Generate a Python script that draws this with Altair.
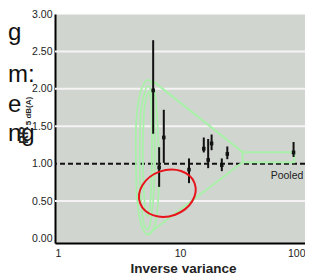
import altair as alt
import pandas as pd

# ---- data ----
inv_var = [6.10, 6.81, 7.42, 11.8, 15.5, 16.8, 17.9, 21.6, 23.9, 81.0]
rr_point = [1.98, 0.95, 1.35, 0.92, 1.20, 1.05, 1.27, 0.98, 1.13, 1.15]
rr_low = [1.40, 0.69, 1.01, 0.74, 1.15, 0.94, 1.18, 0.90, 1.06, 1.09]
rr_high = [2.65, 1.22, 1.72, 1.07, 1.35, 1.33, 1.39, 1.07, 1.23, 1.29]

grid_values = [0.5, 1.5, 2.0, 2.5]
reference_rr = [1.0]
y_ticks = [0, 0.5, 1, 1.5, 2, 2.5, 3]
x_ticks = [1, 10, 100]

# funnel outline (triangle + box to pooled estimate)
funnel_x = [5.95, 31.7, 82.0, 82.0, 31.7, 5.53]
funnel_y = [2.116, 1.154, 1.154, 1.020, 1.020, 0.057]
box_edge_x = [31.7, 31.7]
box_edge_y = [1.154, 1.020]

# hand-drawn loops near the left
loop_outer_x = [5.53, 6.06, 6.41, 6.65, 6.77, 6.65, 6.29, 5.74, 5.23, 4.78, 4.52, 4.44, 4.44, 4.60, 4.95]
loop_outer_y = [2.12, 2.04, 1.85, 1.45, 0.91, 0.45, 0.18, 0.06, 0.08, 0.25, 0.58, 1.05, 1.45, 1.78, 2.01]
loop_mid_x = [5.53, 5.95, 6.18, 6.29, 6.18, 5.95, 5.63, 5.23, 4.95, 4.78, 4.78, 4.86, 5.14]
loop_mid_y = [2.04, 1.93, 1.65, 1.18, 0.65, 0.33, 0.14, 0.16, 0.38, 0.78, 1.32, 1.69, 1.92]
loop_in_x = [5.63, 5.84, 5.95, 5.95, 5.84, 5.63, 5.33, 5.14, 5.04, 5.14, 5.33]
loop_in_y = [1.96, 1.85, 1.58, 1.05, 0.58, 0.32, 0.35, 0.65, 1.18, 1.65, 1.85]

ellipse_x = [7.92]
ellipse_y = [0.606]

pooled_label = ["Pooled"]
pooled_label_x = [97.0]
pooled_label_y = [0.84]

x_title = "Inverse variance"
y_title_main = "RR"
y_title_sub = "5 dB(A)"
slide_words = ["g", "m:", "e", "ng"]

# ---- tables ----
studies = pd.DataFrame({"iv": inv_var, "rr": rr_point, "lo": rr_low, "hi": rr_high})
grid = pd.DataFrame({"v": grid_values})
ref = pd.DataFrame({"v": reference_rr})

fun_rows = []
for i, (a, b) in enumerate(zip(funnel_x, funnel_y)):
    fun_rows.append({"g": "funnel", "i": i, "iv": a, "rr": b})
for i, (a, b) in enumerate(zip(box_edge_x, box_edge_y)):
    fun_rows.append({"g": "edge", "i": i, "iv": a, "rr": b})
funnel = pd.DataFrame(fun_rows)

loop_rows = []
for name, xs_, ys_ in [("outer", loop_outer_x, loop_outer_y), ("mid", loop_mid_x, loop_mid_y), ("in", loop_in_x, loop_in_y)]:
    for i, (a, b) in enumerate(zip(xs_, ys_)):
        loop_rows.append({"g": name, "i": i, "iv": a, "rr": b})
loops = pd.DataFrame(loop_rows)

ell = pd.DataFrame({"iv": ellipse_x, "rr": ellipse_y})
pooled = pd.DataFrame({"iv": pooled_label_x, "rr": pooled_label_y, "t": pooled_label})

FONT = "Liberation Sans Narrow, Arial Narrow, Liberation Sans, sans-serif"
GREEN = "#a9f0a9"

xs = alt.Scale(type="log", domain=[1, 100], nice=False)
ys = alt.Scale(domain=[-0.06, 3.0], nice=False, zero=False)
x_axis = alt.Axis(values=x_ticks, format="d", ticks=False, grid=False, domainColor="black",
                  domainWidth=2, labelFont=FONT, labelFontSize=10.5, labelColor="#222",
                  labelPadding=5, labelFlush=True, title=x_title, titleFont="Liberation Sans",
                  titleFontSize=13.5, titleFontWeight="bold", titleColor="#222", titlePadding=3,
                  titleX=128)
y_axis = alt.Axis(values=y_ticks, format=".2f", ticks=False, grid=False, domainColor="black",
                  domainWidth=2, labelFont=FONT, labelFontSize=10.5, labelColor="#222",
                  labelPadding=3, title=None)


def X(f="iv"):
    return alt.X(f"{f}:Q", scale=xs, axis=x_axis)


def Y(f="rr"):
    return alt.Y(f"{f}:Q", scale=ys, axis=y_axis)


grid_layer = alt.Chart(grid).mark_rule(color="#f6f3f5", strokeWidth=2).encode(y=Y("v"))
ref_layer = alt.Chart(ref).mark_rule(color="#111", strokeWidth=2, strokeDash=[5, 3]).encode(y=Y("v"))

loop_layer = alt.Chart(loops).mark_line(color=GREEN, strokeWidth=1.8, interpolate="cardinal-closed").encode(
    x=X(), y=Y(), detail="g:N", order="i:Q")
funnel_layer = alt.Chart(funnel).mark_line(color=GREEN, strokeWidth=2).encode(
    x=X(), y=Y(), detail="g:N", order="i:Q")

bars = alt.Chart(studies).mark_rule(color="#111", strokeWidth=2).encode(x=X(), y=Y("lo"), y2="hi:Q")
dots = alt.Chart(studies).transform_calculate(a="datum.rr - 0.025", b="datum.rr + 0.025").mark_rule(
    color="#111", strokeWidth=3.5).encode(x=X(), y=Y("a"), y2="b:Q")

ellipse_path = ("M1,0 C1,0.436 0.552,0.79 0,0.79 C-0.552,0.79 -1,0.436 -1,0 "
                "C-1,-0.436 -0.552,-0.79 0,-0.79 C0.552,-0.79 1,-0.436 1,0 Z")
ellipse_layer = alt.Chart(ell).mark_point(shape=ellipse_path, filled=False, color="#e8141c",
                                          strokeWidth=2, size=3364, angle=340, opacity=1).encode(x=X(), y=Y())

pooled_layer = alt.Chart(pooled).mark_text(font=FONT, fontSize=10.5, color="#222", align="right").encode(
    x=X(), y=Y(), text="t:N")

words = pd.DataFrame({"t": slide_words, "px": [-47, -47, -47, -47], "py": [26, 68, 98, 127]})
words_layer = alt.Chart(words).mark_text(font="Liberation Sans", fontSize=24, align="left",
                                         baseline="alphabetic", color="#111").encode(
    x=alt.X("px:Q", scale=None), y=alt.Y("py:Q", scale=None), text="t:N")

one = pd.DataFrame({"t": [y_title_main]})
ytitle_main = alt.Chart(one).mark_text(font="Liberation Sans", fontWeight="bold", fontSize=12, angle=270,
                                       align="center", baseline="alphabetic", color="#222").encode(
    x=alt.value(-27), y=alt.value(121), text="t:N")
sub = pd.DataFrame({"t": [y_title_sub]})
ytitle_sub = alt.Chart(sub).mark_text(font="Liberation Sans", fontWeight="bold", fontSize=8, angle=270,
                                      align="center", baseline="alphabetic", color="#222").encode(
    x=alt.value(-24), y=alt.value(97), text="t:N")

chart = alt.layer(
    grid_layer, ref_layer, loop_layer, funnel_layer, bars, dots, ellipse_layer, pooled_layer,
    words_layer, ytitle_main, ytitle_sub
).properties(
    width=250, height=229,
    padding={"left": 47, "top": 6, "right": 0, "bottom": 33},
    autosize=alt.AutoSizeParams(type="none"),
    background="white",
).configure_view(fill="#d0d5d0", stroke="transparent")

chart.save("out.html", embed_options={"renderer": "svg", "actions": False})
